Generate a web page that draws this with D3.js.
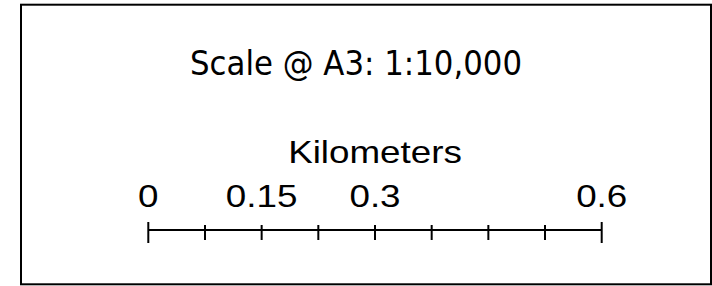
<!DOCTYPE html>
<html>
<head>
<meta charset="utf-8">
<script src="https://cdn.jsdelivr.net/npm/d3@7"></script>
<style>
  html, body { margin: 0; padding: 0; background: #fff; }
  svg { display: block; }
</style>
</head>
<body>
<svg id="chart" width="712" height="286"></svg>
<script>
// scale bar data
var titleText = "Scale @ A3: 1:10,000";
var unitText = "Kilometers";
var barDomain = [0, 0.6];
var tickValues = [0, 0.075, 0.15, 0.225, 0.3, 0.375, 0.45, 0.525, 0.6];
var labelValues = [0, 0.15, 0.3, 0.6];

var svg = d3.select("#chart");

// frame
svg.append("rect")
    .attr("x", 21).attr("y", 4.7)
    .attr("width", 690).attr("height", 279.6)
    .attr("fill", "#fff")
    .attr("stroke", "#000")
    .attr("stroke-width", 2);

var x = d3.scaleLinear().domain(barDomain).range([148.3, 601.7]);
var lineY = 230;

// title
svg.append("text")
    .attr("x", 190).attr("y", 75)
    .attr("textLength", 332)
    .attr("lengthAdjust", "spacingAndGlyphs")
    .style("font-family", "'DejaVu Sans', Verdana, sans-serif")
    .style("font-size", "34px")
    .attr("fill", "#000")
    .text(titleText);

// unit label
svg.append("text")
    .attr("transform", "translate(375,163) scale(1.15,1)")
    .attr("text-anchor", "middle")
    .style("font-family", "'Liberation Sans', Arial, sans-serif")
    .style("font-size", "32px")
    .attr("fill", "#000")
    .text(unitText);

// bar line
svg.append("line")
    .attr("x1", x(barDomain[0])).attr("x2", x(barDomain[1]))
    .attr("y1", lineY).attr("y2", lineY)
    .attr("stroke", "#000").attr("stroke-width", 2);

// ticks
svg.selectAll(".tick")
    .data(tickValues)
    .enter().append("line")
    .attr("class", "tick")
    .attr("x1", function (d) { return x(d); })
    .attr("x2", function (d) { return x(d); })
    .attr("y1", function (d, i) { return (i == 0 || i == tickValues.length - 1) ? lineY - 8 : lineY - 5; })
    .attr("y2", function (d, i) { return (i == 0 || i == tickValues.length - 1) ? lineY + 13 : lineY + 10; })
    .attr("stroke", "#000").attr("stroke-width", 2);

// labels
svg.selectAll(".lbl")
    .data(labelValues)
    .enter().append("text")
    .attr("class", "lbl")
    .attr("transform", function (d) { return "translate(" + x(d) + ",207) scale(1.15,1)"; })
    .attr("text-anchor", "middle")
    .style("font-family", "'Liberation Sans', Arial, sans-serif")
    .style("font-size", "32px")
    .attr("fill", "#000")
    .text(function (d) { return String(d); });
</script>
</body>
</html>
